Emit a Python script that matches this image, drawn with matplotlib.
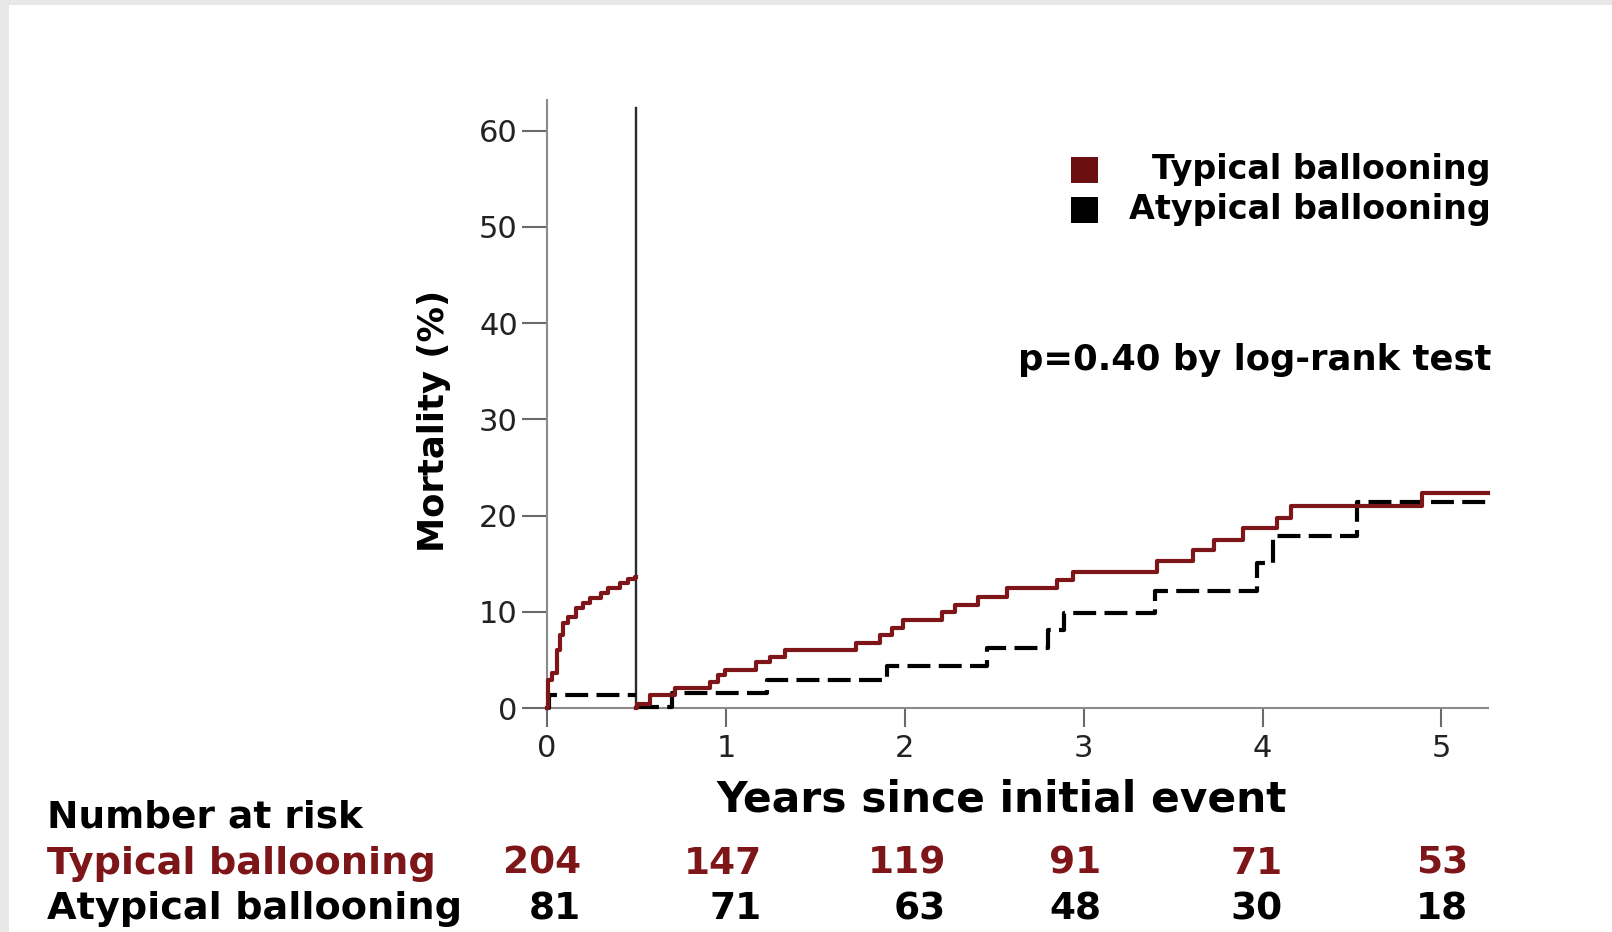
import matplotlib
matplotlib.use("Agg")
import matplotlib.pyplot as plt
from matplotlib.patches import Rectangle
from matplotlib.transforms import blended_transform_factory

plt.rcParams['font.family'] = ['DejaVu Sans']

# ---------------- data ----------------
landmark = 0.5
x_max = 5.26

# Typical ballooning, 0 - landmark
typ_pre_t = [0, 0.006, 0.03, 0.055, 0.075, 0.09, 0.12, 0.16, 0.20, 0.24, 0.30, 0.34, 0.41, 0.455, 0.49]
typ_pre_y = [0, 2.9, 3.6, 6.0, 7.6, 8.8, 9.5, 10.4, 10.9, 11.4, 12.0, 12.5, 13.0, 13.4, 13.6]
# Atypical ballooning, 0 - landmark
atyp_pre_t = [0, 0.01]
atyp_pre_y = [0, 1.35]

# Typical ballooning, after landmark
typ_post_t = [0.50, 0.505, 0.575, 0.715, 0.91, 0.955, 0.995, 1.17, 1.245, 1.33, 1.73, 1.86, 1.93,
              1.99, 2.21, 2.28, 2.41, 2.57, 2.85, 2.94, 3.41, 3.61, 3.73, 3.89, 4.08, 4.16, 4.89]
typ_post_y = [0.0, 0.45, 1.35, 2.1, 2.7, 3.4, 3.9, 4.8, 5.3, 6.0, 6.8, 7.6, 8.3,
              9.1, 10.0, 10.7, 11.5, 12.5, 13.3, 14.1, 15.3, 16.4, 17.5, 18.7, 19.8, 21.0, 22.4]
# Atypical ballooning, after landmark
atyp_post_t = [0.50, 0.70, 1.23, 1.90, 2.46, 2.80, 2.89, 3.40, 3.97, 4.06, 4.53]
atyp_post_y = [0.1, 1.55, 2.9, 4.4, 6.2, 8.1, 9.9, 12.2, 15.1, 17.9, 21.4]

groups = ["Typical ballooning", "Atypical ballooning"]
risk_years = [0, 1, 2, 3, 4, 5]
risk_typical = [204, 147, 119, 91, 71, 53]
risk_atypical = [81, 71, 63, 48, 30, 18]

x_ticks = [0, 1, 2, 3, 4, 5]
y_ticks = [0, 10, 20, 30, 40, 50, 60]

# ---------------- style / layout ----------------
RED = '#7e1518'
RED_LEG = '#6c0f10'
W, H = 1612, 932
risk_label_x = [0.19, 1.20, 2.23, 3.10, 4.11, 5.15]   # right edges of risk numbers (data units)


def fx(px):
    return px / W


def fy(py):
    return 1 - py / H


fig = plt.figure(figsize=(W / 100, H / 100), dpi=100)
fig.patch.set_facecolor('white')
# light grey frame on the top and left edges
fig.patches.append(Rectangle((0, fy(5)), 1, 5 / H, transform=fig.transFigure,
                             facecolor='#e8e8e8', edgecolor='none', zorder=-1))
fig.patches.append(Rectangle((0, 0), 9 / W, 1, transform=fig.transFigure,
                             facecolor='#e8e8e8', edgecolor='none', zorder=-1))

ax = fig.add_axes([fx(547), fy(708), fx(1488) - fx(547), fy(100) - fy(708)])
ax.set_xlim(0, x_max)
ax.set_ylim(0, 63.2)

lw = 3.0
dash = (0, (5.5, 2.0))
ax.step(typ_pre_t + [landmark], typ_pre_y + [typ_pre_y[-1]], where='post',
        color=RED, lw=lw, clip_on=False, zorder=4)
ax.step(atyp_pre_t + [landmark], atyp_pre_y + [atyp_pre_y[-1]], where='post',
        color='black', lw=lw, ls=dash, clip_on=False, zorder=3)
ax.step(typ_post_t + [x_max], typ_post_y + [typ_post_y[-1]], where='post',
        color=RED, lw=lw, clip_on=False, zorder=4)
ax.step(atyp_post_t + [x_max], atyp_post_y + [atyp_post_y[-1]], where='post',
        color='black', lw=lw, ls=dash, clip_on=False, zorder=3)

# landmark line
ax.plot([landmark, landmark], [0, 62.4], color='#2a2a2a', lw=1.7, zorder=2)

for s in ['top', 'right']:
    ax.spines[s].set_visible(False)
for s in ['left', 'bottom']:
    ax.spines[s].set_color('#8a8a8a')
    ax.spines[s].set_linewidth(1.5)

ax.set_xticks(x_ticks)
ax.set_yticks(y_ticks)
ax.tick_params(axis='x', direction='out', length=14, width=1.5, color='#6a6a6a',
               labelsize=22, labelcolor='#222222', pad=5)
ax.tick_params(axis='y', direction='out', length=18, width=1.5, color='#6a6a6a',
               labelsize=22, labelcolor='#222222', pad=3)

ax.set_xlabel("Years since initial event", fontsize=30.5, fontweight='bold', va='center')
ax.xaxis.set_label_coords((1002 - 547) / 941, (708 - 799) / 608)
ax.set_ylabel("Mortality (%)", fontsize=25.5, fontweight='bold', va='center', ha='center')
ax.yaxis.set_label_coords((434 - 547) / 941, (708 - 421) / 608)

# legend (manual, right-aligned labels)
leg_colors = [RED_LEG, 'black']
leg_y = [170, 210]
for lab, col, y in zip(groups, leg_colors, leg_y):
    fig.patches.append(Rectangle((fx(1071), fy(y + 13)), 27 / W, 26 / H,
                                 transform=fig.transFigure, facecolor=col, edgecolor='none'))
    fig.text(fx(1491), fy(y), lab, ha='right', va='center', fontsize=24, fontweight='bold')

fig.text(fx(1491), fy(360), "p=0.40 by log-rank test", ha='right', va='center',
         fontsize=25.5, fontweight='bold')

# number at risk table
fig.text(fx(47), fy(817), "Number at risk", ha='left', va='center', fontsize=27, fontweight='bold')
fig.text(fx(47), fy(864), groups[0], ha='left', va='center', fontsize=27.5,
         fontweight='bold', color=RED)
fig.text(fx(47), fy(909), groups[1], ha='left', va='center', fontsize=27.5,
         fontweight='bold', color='black')

tr = blended_transform_factory(ax.transData, fig.transFigure)
for xr, a, b in zip(risk_label_x, risk_typical, risk_atypical):
    ax.text(xr, fy(864), str(a), transform=tr, ha='right', va='center', fontsize=27,
            fontweight='bold', color=RED, clip_on=False)
    ax.text(xr, fy(909), str(b), transform=tr, ha='right', va='center', fontsize=27,
            fontweight='bold', color='black', clip_on=False)

fig.savefig("out.png", dpi=100)
